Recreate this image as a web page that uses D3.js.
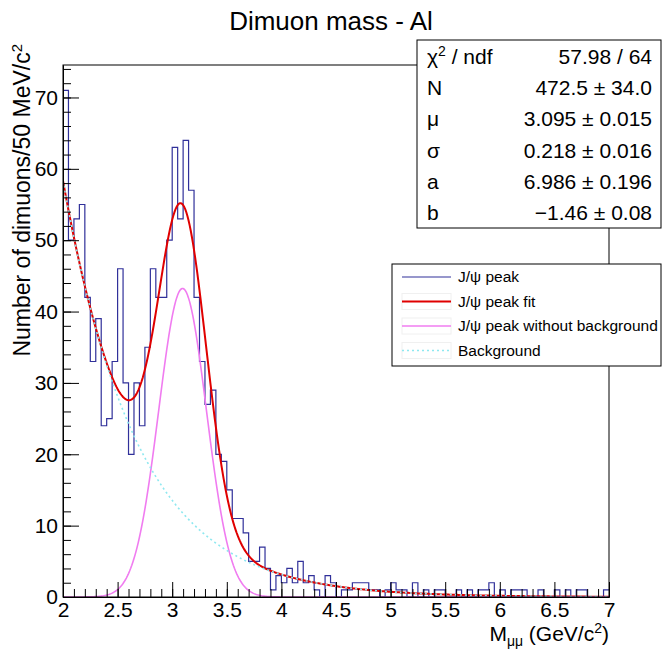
<!DOCTYPE html>
<html>
<head>
<meta charset="utf-8">
<script src="https://cdn.jsdelivr.net/npm/d3@7"></script>
<style>
  body { margin: 0; background: #fff; }
  svg { font-family: "Liberation Sans", Arial, Helvetica, sans-serif; }
</style>
</head>
<body>
<div id="chart-area"></div>
<script>
// histogram: 100 bins of 50 MeV from 2 to 7 GeV/c2
const binLow = 2, binWidth = 0.05;
const counts = [
  71, 50, 53, 55, 42, 33, 39, 24, 25, 33,
  46, 30, 20, 30, 24, 35, 46, 42, 42, 50,
  63, 53, 64, 57, 42, 33, 27, 29, 20, 19,
  15, 11, 11, 9, 5, 5, 7, 4, 1, 3,
  2, 4, 2, 5, 2, 3, 1, 0, 3, 2,
  0, 1, 1, 2, 2, 2, 1, 1, 0, 1,
  2, 1, 1, 0, 2, 0, 1, 0, 1, 1,
  0, 0, 1, 0, 1, 0, 1, 1, 2, 0,
  1, 0, 1, 1, 1, 0, 0, 1, 0, 0,
  1, 0, 1, 0, 1, 1, 0, 0, 0, 1
];

// fit parameters (from the stats box)
const fitN = 472.5, fitMu = 3.095, fitSigma = 0.218, fitA = 6.986, fitB = -1.46;

const statNames = ["\u03c7\u00b2 / ndf", "N", "\u03bc", "\u03c3", "a", "b"];
const statValues = ["57.98 / 64", "472.5 \u00b1 34.0", "3.095 \u00b1 0.015", "0.218 \u00b1 0.016", "6.986 \u00b1 0.196", "\u22121.46 \u00b1 0.08"];

const legendLabels = ["J/\u03c8 peak", "J/\u03c8 peak fit", "J/\u03c8 peak without background", "Background"];
const xTicks = [2, 2.5, 3, 3.5, 4, 4.5, 5, 5.5, 6, 6.5, 7];
const yTicks = [0, 10, 20, 30, 40, 50, 60, 70];

/******************************
*	DIMENSIONS AND MARGINS	  *
******************************/
const W = 662, H = 649;
const margin = { top: 65, right: 53, bottom: 52, left: 63 };
const width = W - margin.left - margin.right,
      height = H - margin.top - margin.bottom;

const svg = d3.select("#chart-area").append("svg")
    .attr("width", W).attr("height", H);
const g = svg.append("g")
    .attr("transform", "translate(" + margin.left + "," + margin.top + ")");

const x = d3.scaleLinear().domain([2, 7]).range([0, width]);
const y = d3.scaleLinear().domain([0, d3.max(counts) * 1.05]).range([height, 0]);

// curves
function bkg(m) { return Math.exp(fitA + fitB * m); }
function peak(m) {
  return fitN * binWidth / (fitSigma * Math.sqrt(2 * Math.PI)) *
    Math.exp(-0.5 * Math.pow((m - fitMu) / fitSigma, 2));
}
const grid = d3.range(0, 501).map(i => 2 + i * 0.01);

svg.append("defs").append("clipPath").attr("id", "frame")
  .append("rect").attr("width", width).attr("height", height);

const plot = g.append("g").attr("clip-path", "url(#frame)");

// histogram outline
const edges = counts.map((c, i) => [binLow + i * binWidth, c]);
edges.push([binLow + counts.length * binWidth, counts[counts.length - 1]]);
plot.append("path")
  .datum(edges)
  .attr("fill", "none")
  .attr("stroke", "#30309a")
  .attr("stroke-width", 1.2)
  .attr("d", d3.line().x(d => x(d[0])).y(d => y(d[1])).curve(d3.curveStepAfter));

const line = d3.line().x(d => x(d[0])).y(d => y(d[1]));

plot.append("path")
  .datum(grid.map(m => [m, bkg(m) + peak(m)]))
  .attr("fill", "none").attr("stroke", "#e00000").attr("stroke-width", 2)
  .attr("d", line);

plot.append("path")
  .datum(grid.map(m => [m, peak(m)]))
  .attr("fill", "none").attr("stroke", "#f07cf0").attr("stroke-width", 1.6)
  .attr("d", line);

plot.append("path")
  .datum(grid.map(m => [m, bkg(m)]))
  .attr("fill", "none").attr("stroke", "#8ee8f0").attr("stroke-width", 1.6)
  .attr("stroke-dasharray", "2,3")
  .attr("d", line);

/******************************
*			AXES			  *
******************************/
g.append("rect").attr("width", width).attr("height", height)
  .attr("fill", "none").attr("stroke", "#000").attr("stroke-width", 1);

g.append("g").attr("transform", "translate(0," + height + ")")
  .call(d3.axisBottom(x).tickValues(xTicks).tickSizeInner(-15).tickSizeOuter(0)
    .tickPadding(5).tickFormat(d3.format("")));
g.append("g").attr("transform", "translate(0," + height + ")")
  .call(d3.axisBottom(x).tickValues(d3.range(2, 7.001, 0.1)).tickSizeInner(-8)
    .tickSizeOuter(0).tickFormat(""));

g.append("g")
  .call(d3.axisLeft(y).tickValues(yTicks).tickSizeInner(-16).tickSizeOuter(0)
    .tickPadding(5));
g.append("g")
  .call(d3.axisLeft(y).tickValues(d3.range(0, 75, 2)).tickSizeInner(-8)
    .tickSizeOuter(0).tickFormat(""));

g.selectAll(".tick text").attr("font-size", 21).attr("fill", "#000")
  .attr("font-family", "'Liberation Sans', Arial, sans-serif");
g.selectAll(".domain").attr("stroke", "#000");
g.selectAll(".tick line").attr("stroke", "#000");

// titles
svg.append("text").attr("x", 331).attr("y", 30).attr("text-anchor", "middle")
  .attr("font-size", 26).text("Dimuon mass - Al");

const yl = svg.append("text")
  .attr("transform", "translate(30,44) rotate(-90)")
  .attr("text-anchor", "end").attr("font-size", 23);
yl.append("tspan").text("Number of dimuons/50 MeV/c");
yl.append("tspan").attr("dy", -8).attr("font-size", 15).text("2");

const xl = svg.append("text").attr("x", 609).attr("y", 641)
  .attr("text-anchor", "end").attr("font-size", 21);
xl.append("tspan").text("M");
xl.append("tspan").attr("dy", 5).attr("font-size", 14).text("\u03bc\u03bc");
xl.append("tspan").attr("dy", -5).text(" (GeV/c");
xl.append("tspan").attr("dy", -8).attr("font-size", 14).text("2");
xl.append("tspan").attr("dy", 8).text(")");

/******************************
*			STATS BOX		  *
******************************/
const sb = svg.append("g").attr("transform", "translate(417,40)");
const sbW = 244, sbH = 188, rowH = sbH / statNames.length;
sb.append("rect").attr("width", sbW).attr("height", sbH)
  .attr("fill", "#fff").attr("stroke", "#000").attr("stroke-width", 1);
statNames.forEach((nm, i) => {
  const t = sb.append("text").attr("x", 10).attr("y", rowH * i + rowH / 2 + 8)
    .attr("font-size", 21);
  if (i === 0) {
    t.append("tspan").text("\u03c7");
    t.append("tspan").attr("dy", -8).attr("font-size", 14).text("2");
    t.append("tspan").attr("dy", 8).text(" / ndf");
  } else {
    t.text(nm);
  }
  sb.append("text").attr("x", sbW - 9).attr("y", rowH * i + rowH / 2 + 8)
    .attr("text-anchor", "end").attr("font-size", 21).text(statValues[i]);
});

/******************************
*			LEGEND			  *
******************************/
const lg = svg.append("g").attr("transform", "translate(392,264)");
lg.append("rect").attr("width", 269).attr("height", 102)
  .attr("fill", "#fff").attr("stroke", "#000").attr("stroke-width", 1);
const legStroke = ["#30309a", "#e00000", "#f07cf0", "#8ee8f0"];
const legWidth = [1.2, 2, 1.6, 1.6];
legendLabels.forEach((lab, i) => {
  const cy = 13 + i * 24.5;
  if (i > 0) {
    lg.append("rect").attr("x", 10).attr("y", cy - 8).attr("width", 49).attr("height", 16)
      .attr("fill", "none").attr("stroke", "#f0f0f0");
  }
  lg.append("line").attr("x1", 10).attr("x2", 59).attr("y1", cy).attr("y2", cy)
    .attr("stroke", legStroke[i]).attr("stroke-width", legWidth[i])
    .attr("stroke-dasharray", i === 3 ? "2,3" : null);
  lg.append("text").attr("x", 66).attr("y", cy + 5).attr("font-size", 15.5).text(lab);
});
</script>
</body>
</html>
